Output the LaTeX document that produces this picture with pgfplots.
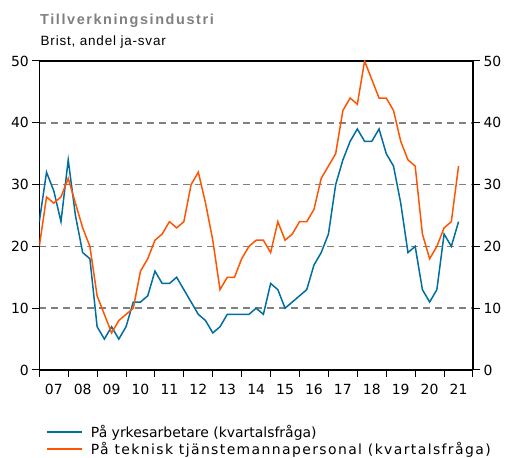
\documentclass[border=0pt]{standalone}
\usepackage{fontspec}
\setmainfont{DejaVu Sans}
\newfontfamily\titlefont{Liberation Sans}
\newfontfamily\spacedfont[LetterSpace=10]{DejaVu Sans}
\usepackage{pgfplots}
\pgfplotsset{compat=1.18}

\definecolor{serieblue}{RGB}{0,110,160}
\definecolor{serieorange}{RGB}{255,85,0}
\definecolor{gridgray}{RGB}{128,128,128}

% quarterly, 2007 Q1 .. 2021 Q3
\pgfplotstableread{
x y
2007.00 24
2007.25 32
2007.50 29
2007.75 24
2008.00 34
2008.25 25
2008.50 19
2008.75 18
2009.00 7
2009.25 5
2009.50 7
2009.75 5
2010.00 7
2010.25 11
2010.50 11
2010.75 12
2011.00 16
2011.25 14
2011.50 14
2011.75 15
2012.00 13
2012.25 11
2012.50 9
2012.75 8
2013.00 6
2013.25 7
2013.50 9
2013.75 9
2014.00 9
2014.25 9
2014.50 10
2014.75 9
2015.00 14
2015.25 13
2015.50 10
2015.75 11
2016.00 12
2016.25 13
2016.50 17
2016.75 19
2017.00 22
2017.25 30
2017.50 34
2017.75 37
2018.00 39
2018.25 37
2018.50 37
2018.75 39
2019.00 35
2019.25 33
2019.50 27
2019.75 19
2020.00 20
2020.25 13
2020.50 11
2020.75 13
2021.00 22
2021.25 20
2021.50 24
}\yrkes

\pgfplotstableread{
x y
2007.00 20
2007.25 28
2007.50 27
2007.75 28
2008.00 31
2008.25 27
2008.50 23
2008.75 20
2009.00 12
2009.25 9
2009.50 6
2009.75 8
2010.00 9
2010.25 10
2010.50 16
2010.75 18
2011.00 21
2011.25 22
2011.50 24
2011.75 23
2012.00 24
2012.25 30
2012.50 32
2012.75 27
2013.00 21
2013.25 13
2013.50 15
2013.75 15
2014.00 18
2014.25 20
2014.50 21
2014.75 21
2015.00 19
2015.25 24
2015.50 21
2015.75 22
2016.00 24
2016.25 24
2016.50 26
2016.75 31
2017.00 33
2017.25 35
2017.50 42
2017.75 44
2018.00 43
2018.25 50
2018.50 47
2018.75 44
2019.00 44
2019.25 42
2019.50 37
2019.75 34
2020.00 33
2020.25 22
2020.50 18
2020.75 20
2021.00 23
2021.25 24
2021.50 33
}\tjanste

\begin{document}
\begin{tikzpicture}[x=1bp,y=1bp]
\useasboundingbox (0,0) rectangle (508,458);
\node[anchor=base west, inner sep=0pt, text=gridgray, font=\titlefont\fontsize{14.5}{17}\selectfont\bfseries\addfontfeature{LetterSpace=11}]
  at (40,433) {Tillverkningsindustri};
\node[anchor=base west, inner sep=0pt, font=\titlefont\fontsize{13.5}{15}\selectfont\addfontfeature{LetterSpace=6}]
  at (40.5,412) {Brist, andel ja-svar};

\pgfplotsset{
  common/.style={
    at={(39.3bp,88bp)}, anchor=south west,
    scale only axis, width=433.7bp, height=309bp,
    xmin=2007, xmax=2022, ymin=0, ymax=50,
    ytick={0,10,...,50},
    axis line style={line width=1.2bp, black},
    tick style={line width=1bp, black},
    tick align=outside,
    major tick length=7bp,
    /pgf/number format/assume math mode=true,
    tick label style={font=\fontsize{14}{16}\selectfont},
  }
}

\begin{axis}[
  common,
  axis y line*=left,
  axis x line*=box,
  xtick={2007,...,2022},
  xticklabels={07,08,09,10,11,12,13,14,15,16,17,18,19,20,21,{}},
  xticklabel style={xshift=14.46bp, yshift=-4bp},
  xtick pos=bottom,
  ymajorgrids,
  grid style={gridgray, line width=1.6bp, dash pattern=on 7bp off 5bp},
  legend style={at={(axis description cs:0,0)}, anchor=north west,
    xshift=7bp, yshift=-53bp, draw=none, fill=none, inner sep=0pt,
    font=\fontsize{14}{16}\selectfont, row sep=-1bp,
    /tikz/every odd column/.append style={column sep=6bp}},
  legend cell align=left,
  legend image code/.code={\draw[#1] (0bp,0bp) -- (35bp,0bp);},
]
\addplot[serieblue, line width=1.5bp] table[x=x, y=y] {\yrkes};
\addlegendentry{På yrkesarbetare (kvartalsfråga)}
\addplot[serieorange, line width=1.5bp] table[x=x, y=y] {\tjanste};
\addlegendentry{\spacedfont På teknisk tjänstemannapersonal (kvartalsfråga)}
\end{axis}

\begin{axis}[
  common,
  axis y line*=right,
  hide x axis,
]
\addplot[draw=none] coordinates {(2007,0)};
\end{axis}
\end{tikzpicture}
\end{document}
